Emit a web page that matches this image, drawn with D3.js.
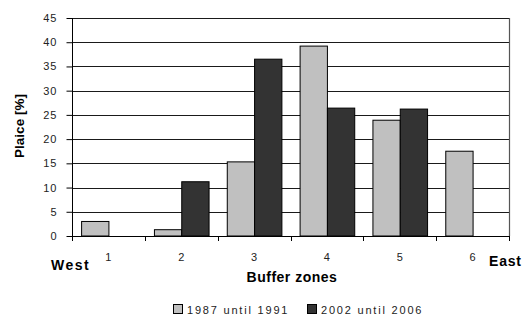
<!DOCTYPE html>
<html>
<head>
<meta charset="utf-8">
<script src="https://cdn.jsdelivr.net/npm/d3@7"></script>
<style>
  html, body { margin: 0; padding: 0; background: #fff; }
  svg { display: block; font-family: "Liberation Sans", Arial, sans-serif; }
</style>
</head>
<body>
<svg id="chart" width="525" height="314"></svg>
<script>
const categories = ["1", "2", "3", "4", "5", "6"];
const seriesNames = ["1987 until 1991", "2002 until 2006"];
const values1987 = [3.0, 1.3, 15.3, 39.2, 23.9, 17.5];
const values2002 = [0, 11.2, 36.5, 26.4, 26.2, 0];
const yTicks = [0, 5, 10, 15, 20, 25, 30, 35, 40, 45];
const colors = ["#c0c0c0", "#333333"];

const seriesValues = [values1987, values2002];
const rows = categories.map((c, i) => ({
  cat: c,
  vals: seriesNames.map((s, j) => ({ key: s, idx: j, value: seriesValues[j][i] }))
}));

const svg = d3.select("#chart");
const L = 72, R = 509, T = 18, B = 236;

const x0 = d3.scaleBand().domain(categories).range([L, R]).padding(0);
const bw = x0.bandwidth();
const pad = bw * 0.125;
const x1 = d3.scaleBand().domain(seriesNames).range([pad, bw - pad]).padding(0);
const y = d3.scaleLinear().domain([0, 45]).range([B, T]);

// gridlines
svg.append("g").selectAll("line").data(yTicks.filter(t => t > 0)).join("line")
  .attr("x1", L).attr("x2", R)
  .attr("y1", d => Math.round(y(d)) + 0.5).attr("y2", d => Math.round(y(d)) + 0.5)
  .attr("stroke", "#1a1a1a").attr("stroke-width", 1);

// right border
svg.append("line").attr("x1", R + 0.5).attr("x2", R + 0.5).attr("y1", T).attr("y2", B)
  .attr("stroke", "#555").attr("stroke-width", 1.2);

// bars
const groups = svg.append("g").selectAll("g").data(rows).join("g")
  .attr("transform", d => `translate(${x0(d.cat)},0)`);
groups.selectAll("rect").data(d => d.vals.filter(v => v.value > 0)).join("rect")
  .attr("x", d => x1(d.key) + 0.5)
  .attr("y", d => y(d.value))
  .attr("width", x1.bandwidth())
  .attr("height", d => B - y(d.value))
  .attr("fill", d => colors[d.idx])
  .attr("stroke", "#000").attr("stroke-width", 1);

// y axis
const yAxis = svg.append("g").attr("transform", `translate(${L + 0.5},0)`)
  .call(d3.axisLeft(y).tickValues(yTicks).tickSize(6).tickPadding(9).tickFormat(d3.format("d")));
yAxis.select(".domain").attr("stroke", "#000").attr("d", `M0,${T}V${B}`);
yAxis.selectAll(".tick line").attr("stroke", "#000");
yAxis.selectAll(".tick text").attr("font-size", 11).attr("fill", "#222")
  .attr("font-family", "Liberation Sans, Arial, sans-serif").style("letter-spacing", "1px");

// x axis: line and ticks at band boundaries
svg.append("line").attr("x1", L).attr("x2", R + 1).attr("y1", B + 0.5).attr("y2", B + 0.5)
  .attr("stroke", "#000");
const boundaries = categories.map(c => x0(c)).concat([x0.range()[1]]);
svg.append("g").selectAll("line").data(boundaries).join("line")
  .attr("x1", d => Math.round(d) + 0.5).attr("x2", d => Math.round(d) + 0.5)
  .attr("y1", B).attr("y2", B + 5).attr("stroke", "#000");

const xAxis = svg.append("g").attr("transform", `translate(0,${B})`)
  .call(d3.axisBottom(x0).tickSize(0).tickPadding(17));
xAxis.select(".domain").remove();
xAxis.selectAll(".tick text").attr("font-size", 11).attr("fill", "#222")
  .attr("font-family", "Liberation Sans, Arial, sans-serif");

// titles
svg.append("text").attr("transform", "translate(24,126) rotate(-90)")
  .attr("text-anchor", "middle").attr("font-size", 13.5).attr("font-weight", "bold")
  .attr("fill", "#000").text("Plaice [%]");
svg.append("text").attr("x", 292).attr("y", 282).attr("text-anchor", "middle")
  .attr("font-size", 14).attr("font-weight", "bold").style("letter-spacing", "0.5px")
  .attr("fill", "#000").text("Buffer zones");
svg.append("text").attr("x", 51).attr("y", 270).attr("font-size", 14)
  .attr("font-weight", "bold").style("letter-spacing", "1.5px").attr("fill", "#000").text("West");
svg.append("text").attr("x", 489).attr("y", 266).attr("font-size", 14)
  .attr("font-weight", "bold").style("letter-spacing", "0.8px").attr("fill", "#000").text("East");

// legend
const legendX = [173, 307];
const lg = svg.append("g").selectAll("g").data(seriesNames).join("g")
  .attr("transform", (d, i) => `translate(${legendX[i]},304)`);
lg.append("rect").attr("x", 0.5).attr("y", 0.5).attr("width", 9).attr("height", 9)
  .attr("fill", (d, i) => colors[i]).attr("stroke", "#000");
lg.append("text").attr("x", 14).attr("y", 9.5).attr("font-size", 11)
  .style("letter-spacing", "1.8px").attr("fill", "#222").text(d => d);
</script>
</body>
</html>
